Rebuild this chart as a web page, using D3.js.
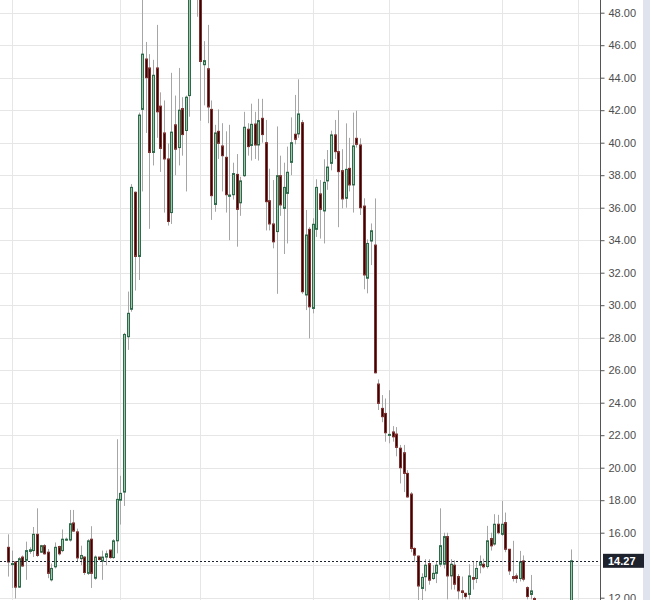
<!DOCTYPE html>
<html>
<head>
<meta charset="utf-8">
<script src="https://cdn.jsdelivr.net/npm/d3@7"></script>
<style>
  body { margin: 0; background: #fff; }
  svg { display: block; font-family: "Liberation Sans", Arial, sans-serif; }
</style>
</head>
<body>
<div id="chart"></div>
<script>
// daily OHLC, null = no trading (gap before the last bar)
var openP = [15.1, 14.05, 14.2, 12.65, 14.5, 14.3, 14.85, 14.9, 15.9, 14.8,
  15.2, 14.8, 13.1, 13.9, 15.15, 14.9, 15.55, 15.55, 16.6, 16.05,
  14.4, 14.5, 13.5, 15.6, 13.2, 14.5, 14.25, 14.5, 14.93, 14.47,
  15.5, 18.0, 18.5, 28.06, 29.75, 36.95, 33.0, 42.05, 45.15, 44.6,
  39.4, 44.6, 42.25, 40.6, 39.0, 35.7, 41.1, 39.7, 42.1, 40.75,
  42.9, 49.8, 51.0, 49.3, 44.8, 44.55, 42.05, 36.2, 40.7, 39.8,
  39.1, 36.7, 36.8, 38.05, 36.3, 37.97, 40.83, 39.83, 41.15, 39.86,
  41.5, 40.0, 36.43, 35.0, 34.53, 37.97, 35.96, 36.88, 38.79, 40.52,
  40.54, 41.23, 30.63, 34.67, 29.8, 34.67, 36.85, 35.8, 37.65, 38.73,
  40.48, 39.45, 38.28, 36.58, 38.42, 37.4, 40.27, 39.86, 36.1, 31.66,
  33.95, 33.7, 25.15, 23.65, 23.34, 22.0, 22.2, 22.07, 21.2, 20.92,
  19.65, 18.38, 15.03, 14.56, 12.57, 13.29, 14.1, 13.18, 13.5, 14.06,
  14.06, 15.76, 13.34, 14.0, 13.3, 12.42, 12.27, 12.2, 13.24, 13.18,
  14.0, 14.06, 13.92, 15.64, 15.3, 16.52, 15.9, 16.62, 14.98, 13.3,
  13.34, 13.18, 14.26, 12.62, 12.2, 11.95, null, null, null, null,
  null, null, null, null, null, 11.8];

var highP = [15.9, 14.9, 14.25, 14.5, 14.6, 15.45, 15.1, 16.35, 17.5, 15.25,
  15.3, 15.0, 14.1, 15.4, 15.2, 16.2, 15.7, 17.4, 17.4, 16.25,
  15.2, 14.55, 15.6, 16.4, 14.6, 14.5, 14.9, 14.9, 14.95, 15.6,
  21.75, 19.5, 28.3, 30.84, 37.45, 37.0, 41.85, 49.5, 46.2, 45.45,
  45.1, 47.25, 43.1, 42.6, 39.95, 44.3, 42.9, 44.6, 42.8, 42.9,
  50.2, 52.0, 51.5, 49.6, 46.25, 47.25, 42.6, 41.1, 42.05, 41.2,
  40.7, 41.1, 38.77, 39.3, 37.9, 41.9, 41.2, 42.4, 41.9, 42.7,
  42.7, 41.4, 38.4, 37.7, 41.0, 39.2, 38.77, 39.76, 41.56, 42.94,
  43.9, 41.4, 35.86, 34.8, 35.35, 37.75, 37.7, 38.98, 39.55, 40.74,
  41.4, 42.0, 39.6, 41.19, 40.3, 41.85, 41.97, 40.27, 36.58, 34.05,
  35.03, 36.57, 25.43, 24.47, 24.26, 24.77, 22.56, 22.5, 21.4, 21.4,
  19.85, 18.5, 15.1, 14.6, 13.5, 14.37, 14.37, 14.0, 14.2, 17.5,
  16.0, 16.0, 14.37, 14.3, 13.45, 13.3, 12.3, 14.06, 14.2, 14.2,
  14.6, 14.4, 16.42, 16.0, 17.14, 17.1, 17.96, 17.24, 15.0, 15.5,
  13.5, 14.88, 14.6, 12.7, 13.4, 12.05, null, null, null, null,
  null, null, null, null, null, 14.97];

var lowP = [13.3, 12.6, 11.95, 12.6, 13.9, 13.1, 14.7, 14.5, 14.5, 14.75,
  14.65, 13.2, 13.0, 13.8, 14.6, 14.8, 15.5, 15.45, 16.05, 14.2,
  14.0, 13.4, 13.4, 12.6, 13.1, 14.3, 13.1, 14.0, 14.4, 14.4,
  14.73, 16.5, 17.65, 27.25, 29.6, 30.9, 31.55, 37.0, 40.6, 34.7,
  38.6, 40.3, 38.2, 35.7, 34.9, 35.0, 38.0, 38.6, 39.2, 37.0,
  41.6, 49.2, 47.75, 41.35, 42.3, 41.2, 35.25, 35.75, 39.0, 37.0,
  35.7, 34.0, 36.5, 33.6, 35.5, 37.9, 39.2, 38.9, 39.0, 38.9,
  40.0, 34.6, 34.6, 33.5, 30.7, 35.5, 33.15, 33.8, 38.0, 39.9,
  40.3, 30.7, 29.7, 27.96, 29.5, 34.2, 34.1, 33.8, 37.1, 38.3,
  39.0, 34.8, 35.96, 36.0, 37.0, 35.7, 39.7, 35.55, 30.98, 30.73,
  32.47, 25.8, 23.55, 22.8, 21.6, 21.5, 21.6, 20.7, 19.03, 18.5,
  18.15, 14.8, 14.2, 11.85, 11.85, 12.4, 12.8, 13.1, 12.9, 13.9,
  13.8, 11.9, 12.5, 12.5, 11.9, 11.9, 11.9, 11.9, 12.5, 12.9,
  13.5, 13.8, 13.8, 14.9, 15.2, 15.9, 15.8, 14.8, 13.4, 13.0,
  12.9, 13.0, 13.0, 11.9, 11.9, 11.8, null, null, null, null,
  null, null, null, null, null, 11.7];

var closeP = [14.2, 14.1, 12.65, 14.4, 13.95, 14.9, 14.95, 15.9, 14.6, 15.2,
  14.7, 13.5, 13.8, 15.1, 14.7, 15.6, 15.6, 16.55, 16.1, 14.45,
  14.6, 13.55, 15.5, 13.5, 14.5, 14.35, 14.5, 14.7, 14.47, 15.5,
  18.05, 18.42, 28.2, 29.5, 37.25, 33.0, 41.7, 45.45, 44.0, 39.4,
  44.15, 41.9, 39.65, 39.0, 35.15, 40.65, 39.6, 42.0, 40.5, 42.8,
  49.6, 51.2, 49.5, 45.0, 45.05, 42.2, 36.74, 40.6, 39.96, 39.2,
  36.8, 36.78, 38.1, 35.9, 37.65, 40.95, 39.76, 41.13, 39.86, 41.36,
  40.5, 36.37, 35.0, 33.9, 37.97, 36.17, 37.25, 38.18, 40.0, 40.21,
  41.77, 30.83, 34.32, 29.9, 34.98, 37.25, 35.9, 37.56, 38.5, 40.48,
  39.45, 38.22, 36.54, 38.36, 37.4, 39.8, 39.9, 36.0, 31.86, 33.8,
  34.58, 25.84, 23.96, 23.14, 22.15, 22.05, 21.9, 21.25, 20.0, 19.65,
  18.2, 15.03, 14.62, 12.72, 13.25, 14.0, 13.08, 13.5, 14.0, 15.2,
  15.76, 13.34, 14.06, 12.83, 12.42, 12.32, 12.07, 13.34, 13.14, 13.8,
  14.2, 13.9, 15.5, 15.19, 16.52, 16.0, 16.52, 14.98, 13.65, 13.18,
  13.18, 14.2, 13.14, 12.07, 12.42, 11.9, null, null, null, null,
  null, null, null, null, null, 14.27];

var lastPrice = 14.27;
var priceTicks = d3.range(12, 49, 2);          // 12.00 ... 48.00
var gridBars = [1, 31, 53, 84, 105, 136, 157];  // bars carrying the time grid

var w = 650;
var h = 600;
var axisX = 600;

var data = openP.map(function(o, i) {
  return {i: i, o: o, h: highP[i], l: lowP[i], c: closeP[i]};
}).filter(function(d) { return d.o != null; });

var xScale = d3.scaleLinear()
  .domain([-2.18, 163.1])
  .range([0, axisX]);

var yScale = d3.scaleLinear()
  .domain([12, 48])
  .range([597.7, 12.7]);

var svg = d3.select("#chart")
  .append("svg")
  .attr("width", w)
  .attr("height", h);

// grid
svg.append("g")
  .selectAll("line")
  .data(priceTicks)
  .enter()
  .append("line")
  .attr("x1", 0)
  .attr("x2", axisX)
  .attr("y1", function(d) { return Math.round(yScale(d)) + 0.5; })
  .attr("y2", function(d) { return Math.round(yScale(d)) + 0.5; })
  .attr("stroke", "#e6e6e6");

svg.append("g")
  .selectAll("line")
  .data(gridBars)
  .enter()
  .append("line")
  .attr("x1", function(d) { return Math.round(xScale(d)) + 0.5; })
  .attr("x2", function(d) { return Math.round(xScale(d)) + 0.5; })
  .attr("y1", 0)
  .attr("y2", h)
  .attr("stroke", "#e6e6e6");

var plot = svg.append("g");

// wicks
plot.selectAll("line.wick")
  .data(data)
  .enter()
  .append("line")
  .attr("class", "wick")
  .attr("x1", function(d) { return Math.round(xScale(d.i)) + 0.5; })
  .attr("x2", function(d) { return Math.round(xScale(d.i)) + 0.5; })
  .attr("y1", function(d) { return yScale(d.h); })
  .attr("y2", function(d) { return yScale(d.l); })
  .attr("stroke", "#a6a6a6")
  .attr("stroke-width", 1);

// bodies
plot.selectAll("rect.body")
  .data(data)
  .enter()
  .append("rect")
  .attr("class", "body")
  .attr("x", function(d) { return Math.round(xScale(d.i)) - 0.5; })
  .attr("y", function(d) { return yScale(Math.max(d.o, d.c)); })
  .attr("width", 2)
  .attr("height", function(d) { return Math.max(1, Math.abs(yScale(d.o) - yScale(d.c))); })
  .attr("fill", function(d) { return d.c >= d.o ? "#a3c6af" : "#360707"; })
  .attr("stroke", function(d) { return d.c >= d.o ? "#2c6a49" : "#7f2e2e"; })
  .attr("stroke-width", 1);

// last price line
svg.append("line")
  .attr("x1", 0)
  .attr("x2", axisX)
  .attr("y1", Math.round(yScale(lastPrice)) + 0.5)
  .attr("y2", Math.round(yScale(lastPrice)) + 0.5)
  .attr("stroke", "#1e222d")
  .attr("stroke-dasharray", "2,2");

// right scale
svg.append("rect")
  .attr("x", axisX + 1)
  .attr("y", 0)
  .attr("width", w - axisX - 1)
  .attr("height", h)
  .attr("fill", "#fff");

svg.append("rect")
  .attr("x", 643)
  .attr("y", 0)
  .attr("width", w - 643)
  .attr("height", h)
  .attr("fill", "#dfe3ee");

var yAxis = d3.axisRight(yScale)
  .tickValues(priceTicks)
  .tickSize(4)
  .tickSizeOuter(0)
  .tickPadding(4)
  .tickFormat(d3.format(".2f"));

var ax = svg.append("g")
  .attr("transform", "translate(" + (axisX + 0.5) + ",0)")
  .call(yAxis);

ax.select(".domain").remove();
ax.selectAll("line").attr("stroke", "#555");
ax.selectAll("text")
  .attr("fill", "#4d4d4d")
  .attr("font-size", 11)
  .attr("font-family", "Liberation Sans, Arial, sans-serif");

// labels hidden behind the last price tag
var tagY = yScale(lastPrice);
ax.selectAll(".tick")
  .filter(function(d) { return Math.abs(yScale(d) - tagY) < 12; })
  .remove();

svg.append("line")
  .attr("x1", axisX + 0.5)
  .attr("x2", axisX + 0.5)
  .attr("y1", 0)
  .attr("y2", h)
  .attr("stroke", "#555");

// last price tag
svg.append("rect")
  .attr("x", 603)
  .attr("y", tagY - 7)
  .attr("width", 41)
  .attr("height", 14)
  .attr("fill", "#1e222d");

svg.append("text")
  .attr("x", 608)
  .attr("y", tagY)
  .attr("dy", "0.35em")
  .attr("fill", "#fff")
  .attr("font-size", 11)
  .attr("font-weight", "bold")
  .text(d3.format(".2f")(lastPrice));
</script>
</body>
</html>
